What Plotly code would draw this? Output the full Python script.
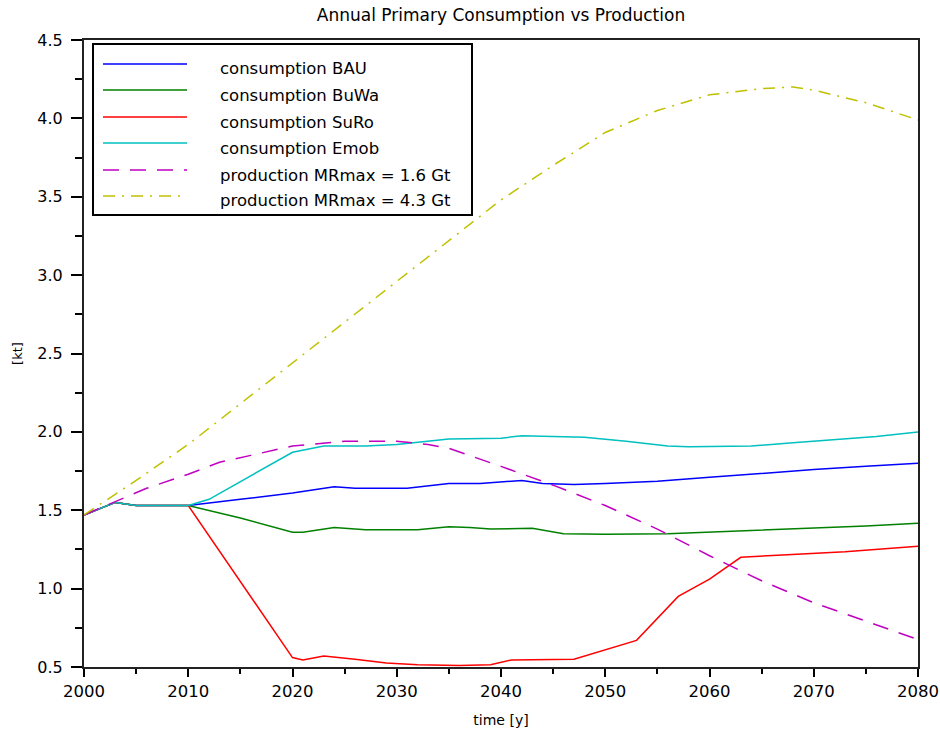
import plotly.graph_objects as go

# ---- data -----------------------------------------------------------------
years_bau = [2000, 2003, 2005, 2010, 2015, 2020, 2024, 2026, 2031, 2035, 2038,
             2042, 2044, 2047, 2050, 2055, 2060, 2065, 2070, 2075, 2080]
cons_bau = [1.47, 1.55, 1.53, 1.53, 1.57, 1.61, 1.65, 1.64, 1.64, 1.67, 1.67,
            1.69, 1.67, 1.665, 1.67, 1.685, 1.71, 1.735, 1.76, 1.78, 1.80]

years_buwa = [2000, 2003, 2005, 2010, 2015, 2020, 2021, 2024, 2027, 2032, 2035,
              2037, 2039, 2043, 2046, 2050, 2056, 2060, 2065, 2070, 2075, 2080]
cons_buwa = [1.47, 1.55, 1.53, 1.53, 1.45, 1.36, 1.36, 1.39, 1.375, 1.375, 1.395,
             1.39, 1.38, 1.385, 1.35, 1.347, 1.35, 1.36, 1.375, 1.385, 1.40, 1.417]

years_suro = [2000, 2003, 2005, 2010, 2020, 2021, 2023, 2026, 2029, 2032, 2036,
              2039, 2041, 2047, 2053, 2057, 2060, 2063, 2067, 2073, 2080]
cons_suro = [1.47, 1.55, 1.53, 1.53, 0.56, 0.545, 0.57, 0.55, 0.525, 0.515, 0.51,
             0.515, 0.545, 0.55, 0.67, 0.95, 1.06, 1.20, 1.215, 1.235, 1.27]

years_emob = [2000, 2003, 2005, 2010, 2012, 2016, 2020, 2023, 2027, 2030, 2033,
              2035, 2040, 2042, 2045, 2048, 2052, 2056, 2058, 2064, 2068, 2072,
              2076, 2080]
cons_emob = [1.47, 1.55, 1.53, 1.53, 1.57, 1.72, 1.87, 1.91, 1.91, 1.92, 1.94,
             1.955, 1.96, 1.975, 1.97, 1.965, 1.94, 1.91, 1.905, 1.91, 1.93, 1.95,
             1.97, 2.00]

years_prod_low = [2000, 2003, 2006, 2010, 2013, 2016, 2020, 2025, 2030, 2033, 2035,
                  2040, 2045, 2050, 2055, 2060, 2065, 2070, 2075, 2080]
prod_low = [1.47, 1.556, 1.64, 1.73, 1.806, 1.85, 1.91, 1.94, 1.94, 1.92, 1.895,
            1.78, 1.66, 1.53, 1.38, 1.21, 1.05, 0.91, 0.79, 0.675]

years_prod_high = [2000, 2005, 2010, 2015, 2020, 2025, 2030, 2035, 2040, 2045, 2050,
                   2055, 2060, 2065, 2068, 2070, 2075, 2080]
prod_high = [1.47, 1.69, 1.92, 2.18, 2.44, 2.70, 2.955, 3.22, 3.48, 3.70, 3.91,
             4.05, 4.15, 4.19, 4.20, 4.18, 4.10, 3.99]

labels = ["consumption BAU", "consumption BuWa", "consumption SuRo",
          "consumption Emob", "production MRmax = 1.6 Gt",
          "production MRmax = 4.3 Gt"]
colors = ["#0000ff", "#008000", "#ff0000", "#00c0c0", "#c000c0", "#c0c000"]
dashes = ["solid", "solid", "solid", "solid", "16px,11px", "12px,7px,2px,7px"]

series = [(years_bau, cons_bau), (years_buwa, cons_buwa), (years_suro, cons_suro),
          (years_emob, cons_emob), (years_prod_low, prod_low),
          (years_prod_high, prod_high)]

# ---- figure ---------------------------------------------------------------
W, H = 940, 733
ML, MR, MT, MB = 84, 22, 40, 66
PW, PH = W - ML - MR, H - MT - MB
FONT = "DejaVu Sans"

fig = go.Figure()
for (xs, ys), name, col, dsh in zip(series, labels, colors, dashes):
    fig.add_trace(go.Scatter(x=xs, y=ys, mode="lines", name=name,
                             line=dict(color=col, width=1.5, dash=dsh),
                             showlegend=False))


def px_x(px):
    return (px - ML) / PW


def px_y(py):
    return (H - MB - py) / PH


# hand-drawn legend box in the upper-left corner
shapes = [dict(type="rect", xref="paper", yref="paper",
               x0=px_x(93), x1=px_x(472), y0=px_y(215), y1=px_y(44),
               line=dict(color="black", width=2), fillcolor="white", layer="above")]
annotations = []
row_y = [64, 90, 117, 143, 170, 196]
for ry, name, col, dsh in zip(row_y, labels, colors, dashes):
    shapes.append(dict(type="line", xref="paper", yref="paper",
                       x0=px_x(103), x1=px_x(187), y0=px_y(ry), y1=px_y(ry),
                       line=dict(color=col, width=1.5, dash=dsh), layer="above"))
    annotations.append(dict(xref="paper", yref="paper", x=px_x(218), y=px_y(ry + 5),
                            text=name, showarrow=False, xanchor="left",
                            yanchor="middle",
                            font=dict(family=FONT, size=16.5, color="black")))

fig.update_layout(
    width=W, height=H,
    margin=dict(l=ML, r=MR, t=MT, b=MB),
    paper_bgcolor="white", plot_bgcolor="white",
    title=dict(text="Annual Primary Consumption vs Production",
               x=(ML + PW / 2) / W, xanchor="center", y=1 - 15 / H, yanchor="middle",
               font=dict(family=FONT, size=17, color="black")),
    shapes=shapes, annotations=annotations,
    showlegend=False,
)
fig.update_xaxes(
    range=[2000, 2080], tick0=2000, dtick=10, ticks="outside", ticklen=8,
    tickwidth=1.5, tickcolor="black", automargin=False,
    minor=dict(dtick=5, ticks="outside", ticklen=5, tickcolor="black", tickwidth=1.5),
    showgrid=False, zeroline=False,
    showline=True, linecolor="#222", linewidth=2, mirror=True,
    tickfont=dict(family=FONT, size=16.5, color="black"),
    title=dict(text="time [y]", standoff=15,
               font=dict(family=FONT, size=14, color="black")),
)
fig.update_yaxes(
    range=[0.5, 4.5], tick0=0.5, dtick=0.5, tickformat=".1f",
    ticks="outside", ticklen=11, tickwidth=1.5, tickcolor="black", automargin=False,
    ticklabelstandoff=5,
    minor=dict(dtick=0.25, ticks="outside", ticklen=7, tickcolor="black", tickwidth=1.5),
    showgrid=False, zeroline=False,
    showline=True, linecolor="#222", linewidth=2, mirror=True,
    tickfont=dict(family=FONT, size=16, color="black"),
    title=dict(text="[kt]", standoff=12,
               font=dict(family=FONT, size=13, color="black")),
)

fig.write_html("out.html")
